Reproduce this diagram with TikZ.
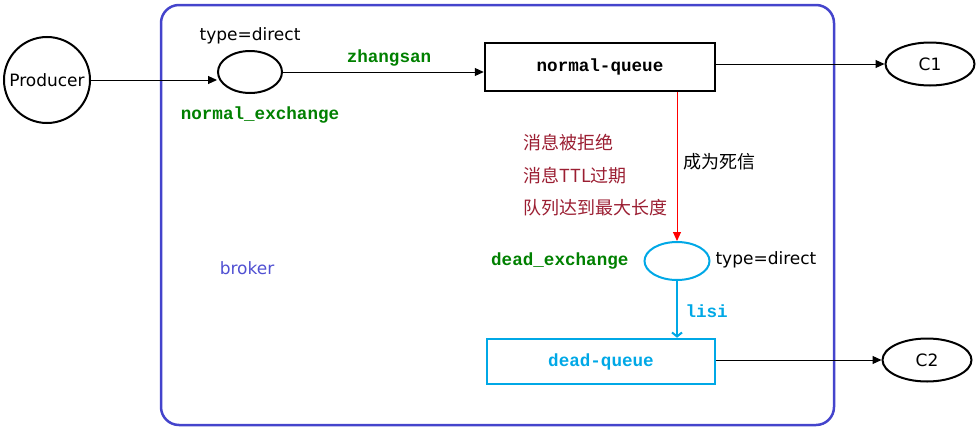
\documentclass[tikz,border=0pt]{standalone}
\usepackage{fontspec}
\setmainfont{DejaVu Sans}
\newfontfamily\cjk{Noto Sans CJK SC}
\newfontfamily\cmono{Liberation Mono}
\usetikzlibrary{shapes.geometric,arrows.meta}
\definecolor{brokerblue}{RGB}{68,68,204}
\definecolor{brokertext}{RGB}{80,80,210}
\definecolor{qgreen}{RGB}{0,128,0}
\definecolor{reason}{RGB}{155,30,50}
\definecolor{deadcyan}{RGB}{0,168,230}
\begin{document}
\begin{tikzpicture}[x=1pt,y=-1pt,
  every node/.style={font=\fontsize{17}{20}\selectfont},
  cjklbl/.style={font=\fontsize{18}{21}\selectfont\cjk},
  monolbl/.style={font=\fontsize{17.6}{20}\selectfont\cmono\bfseries},
  arr/.style={-{Triangle[length=9pt,width=8pt]}, line width=1pt},
  exch/.style={ellipse, draw, line width=2pt, minimum width=64pt, minimum height=42pt, inner sep=0pt},
  cons/.style={ellipse, draw, line width=2pt, minimum width=89pt, minimum height=43pt, inner sep=0pt},
  queuebox/.style={rectangle, draw, line width=2.5pt, inner sep=0pt}]
\useasboundingbox (0,0) rectangle (979,431);
\draw[brokerblue, line width=2.5pt, rounded corners=18pt] (161,5) rectangle (834,425);
\node[brokertext] (brk) at (247,268) {broker};

\node[circle, draw, line width=2pt, minimum size=86pt, inner sep=0pt] (prod) at (47,80) {Producer};
\node[exch] (nex) at (250,72) {};
\node (nexType) at (250,36) {type=direct};
\node[monolbl, qgreen] (nexName) at (260,115) {normal\_exchange};
\node[queuebox, minimum width=230pt, minimum height=48pt, monolbl] (nq) at (600,67) {normal-queue};
\node[monolbl, qgreen] (rk1) at (389,58) {zhangsan};
\node[cons] (c1) at (930,64) {C1};

\draw[arr] (prod.east) -- (prod.east -| nex.west);
\draw[arr] (nex.east) -- (nex.east -| nq.west);
\draw[arr] (nq.east |- c1) -- (c1.west);

\node[exch, draw=deadcyan, minimum width=65pt, minimum height=38pt] (dex) at (677,261) {};
\draw[red, -{Triangle[length=9pt,width=8pt]}, line width=1pt] (dex.north |- nq.south) -- (dex.north);
\node[cjklbl, anchor=west] (dead) at (680,162) {成为死信};
\node[cjklbl, anchor=west, reason] (r1) at (520,143) {消息被拒绝};
\node[cjklbl, anchor=west, reason] (r2) at (520,176) {消息TTL过期};
\node[cjklbl, anchor=west, reason] (r3) at (520,208) {队列达到最大长度};
\node[monolbl, qgreen, anchor=east] (dexName) at (632,261) {dead\_exchange};
\node[anchor=west] (dexType) at (712,260) {type=direct};

\node[queuebox, draw=deadcyan, minimum width=228pt, minimum height=45pt, monolbl, text=deadcyan] (dq) at (601,361.5) {dead-queue};
\draw[deadcyan, line width=2pt, -{Straight Barb[length=4pt,width=10pt]}] (dex.south) -- (dex.south |- dq.north);
\node[monolbl, deadcyan, anchor=west] (rk2) at (682,311) {lisi};
\node[cons] (c2) at (927,360) {C2};
\draw[arr] (dq.east |- c2) -- (c2.west);
\end{tikzpicture}
\end{document}
